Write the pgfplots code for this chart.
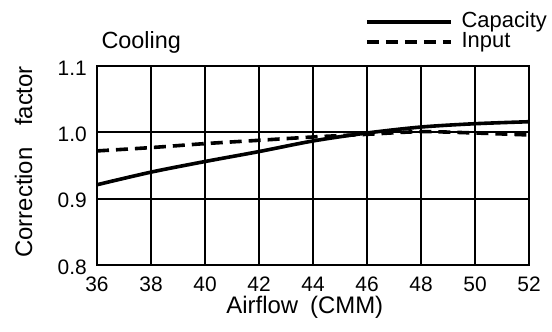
\documentclass[border=0pt]{standalone}
\usepackage{pgfplots}
\pgfplotsset{compat=1.18}
\usepackage{fontspec}
\setmainfont{Liberation Sans}
\begin{document}
\begin{tikzpicture}[x=1bp,y=1bp]
\useasboundingbox (0,0) rectangle (552,331);
\begin{axis}[
  at={(97bp,66bp)}, anchor=south west,
  scale only axis, width=432bp, height=199bp,
  xmin=36, xmax=52, ymin=0.8, ymax=1.1,
  xtick={36,38,...,52}, xticklabels={36,38,40,42,44,46,48,50,52},
  ytick={0.8,0.9,1.0,1.1}, yticklabels={0.8,0.9,1.0,1.1},
  grid=major, major grid style={black, line width=1.8bp},
  axis line style={line width=1.8bp},
  major tick length=0pt,
  tick label style={font=\fontsize{21}{24}\selectfont},
  xticklabel style={anchor=base, yshift=-26bp},
  yticklabel style={anchor=east, inner sep=0pt, xshift=-10bp, yshift=-2bp},
  title={Cooling},
  title style={at={(axis description cs:0,1)}, anchor=base west, xshift=1bp, yshift=12bp, font=\fontsize{23.5}{26}\selectfont},
  xlabel={Airflow\hspace{0.5em}(CMM)},
  xlabel style={at={(axis description cs:0.481,-0.246)}, anchor=base, font=\fontsize{24}{26}\selectfont},
  ylabel={Correction\hspace{0.9em}factor},
  ylabel style={at={(axis description cs:-0.150,0.518)}, anchor=base, font=\fontsize{24}{26}\selectfont},
  legend style={at={(axis description cs:0.62,1.0)}, anchor=south west, draw=none, fill=none,
    font=\fontsize{22}{22}\selectfont, row sep=1bp, inner sep=0pt, yshift=14bp,
    nodes={inner sep=0pt, text height=15bp, text depth=4bp}},
  legend cell align=left,
  legend image code/.code={\draw[#1] (0bp,0bp) -- (84bp,0bp);},
]
\addplot[black, line width=3.6bp, smooth] coordinates {
(36,0.921) (38,0.940) (40,0.956) (42,0.971) (44,0.987) (46,0.999) (48,1.008) (50,1.013) (52,1.016)};
\addlegendentry{\hspace{9bp}Capacity}
\addplot[black, line width=3.6bp, dash pattern=on 12bp off 7bp, smooth] coordinates {
(36,0.972) (38,0.977) (40,0.983) (42,0.988) (44,0.993) (46,0.997) (48,1.001) (50,0.999) (52,0.996)};
\addlegendentry{\hspace{9bp}Input}
\end{axis}
\end{tikzpicture}
\end{document}
